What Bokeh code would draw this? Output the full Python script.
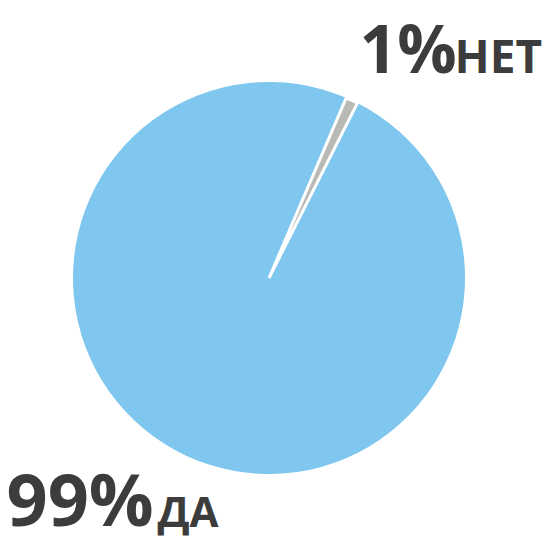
import math
from bokeh.plotting import figure
from bokeh.models import ColumnDataSource, Range1d
from bokeh.core.properties import value
from bokeh.embed import file_html
from bokeh.resources import INLINE

# data
categories = ["ДА", "НЕТ"]
percents = [99, 1]
pct_labels = ["99%", "1%"]
colors = ["#7fc7ef", "#b9bab5"]

W, H = 551, 539
p = figure(width=W, height=H, output_backend="svg", toolbar_location=None,
           x_range=Range1d(0, W), y_range=Range1d(0, H), min_border=0)
p.axis.visible = False
p.grid.visible = False
p.outline_line_color = None
p.background_fill_color = "white"
p.border_fill_color = "white"

# pie geometry (style)
cx, cy, r = 268.5, H - 277.5, 196
center_deg = 65.0  # centre of the small slice, anticlockwise from +x
total = sum(percents)
small = percents[1] / total * 2 * math.pi
s_start = math.radians(center_deg) - small / 2
s_end = s_start + small
starts = [s_end, s_start]
ends = [s_start + 2 * math.pi, s_end]

src = ColumnDataSource(dict(cat=categories, start=starts, end=ends, color=colors,
                            lw=[0, 3]))
p.wedge(x=cx, y=cy, radius=r, start_angle="start", end_angle="end",
        fill_color="color", line_color="white", line_width="lw", source=src)

txt_color = "#3c3c3c"
font = value("Open Sans")

def label(x, base_screen, txt, size):
    y = H - (base_screen - 0.42 * size)
    p.text(x=[x], y=[y], text=[txt], text_font=font, text_font_style="bold",
           text_font_size=f"{size}px", text_color=txt_color, text_baseline="alphabetic")

# "1% НЕТ"
label(359, 74, pct_labels[1], 66)
label(454, 74, categories[1], 46)
# "99% ДА"
label(6, 528, pct_labels[0], 72)
label(157, 528, categories[0], 42)

open("out.html", "w").write(file_html(p, INLINE))
